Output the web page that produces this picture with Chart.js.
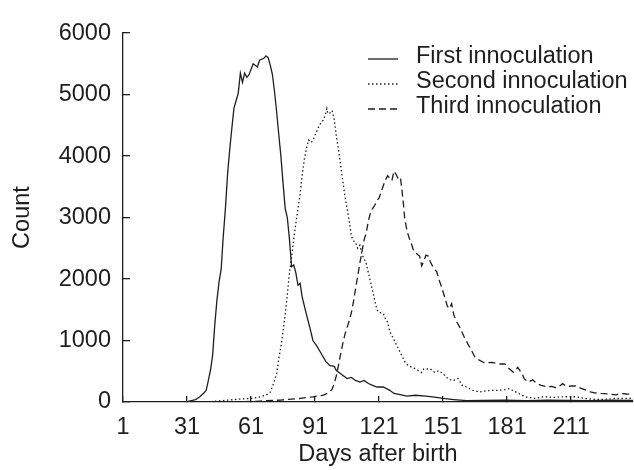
<!DOCTYPE html>
<html>
<head>
<meta charset="utf-8">
<script src="https://cdn.jsdelivr.net/npm/chart.js@4.4.1/dist/chart.umd.min.js"></script>
<style>
  html, body { margin: 0; padding: 0; background: #ffffff; }
  #wrap { width: 634px; height: 470px; position: relative; }
</style>
</head>
<body>
<div id="wrap"><canvas id="c" width="634" height="470"></canvas></div>
<script>
// ---- Data ----
const seriesLabels = ["First innoculation", "Second innoculation", "Third innoculation"];

const firstDays = [1, 20, 31, 35, 37, 39, 40, 41, 42, 43, 44, 45, 46, 47, 48, 49, 50, 51, 52, 53, 54, 55, 56, 57, 58, 59, 60, 62, 64, 65, 67, 68, 69, 70, 71, 72, 73, 74, 75, 76, 77, 78, 79, 80, 81, 82, 83, 84, 85, 87, 89, 90, 92, 94, 96, 98, 100, 101, 103, 106, 108, 110, 112, 114, 116, 118, 120, 123, 126, 128, 131, 134, 138, 143, 147, 151, 156, 162, 170, 180, 190, 200, 210, 220, 230, 240];
const firstCounts = [0, 0, 5, 40, 85, 150, 190, 350, 520, 760, 1250, 1650, 1950, 2160, 2700, 3150, 3700, 4100, 4450, 4780, 4900, 5020, 5350, 5200, 5350, 5280, 5320, 5500, 5450, 5560, 5590, 5630, 5600, 5480, 5330, 5050, 4720, 4350, 4000, 3560, 3150, 3000, 2650, 2200, 2230, 2100, 1900, 1930, 1700, 1420, 1150, 1000, 900, 780, 660, 590, 580, 510, 460, 380, 400, 350, 324, 350, 300, 270, 244, 244, 190, 139, 120, 96, 110, 96, 80, 59, 40, 21, 25, 30, 20, 30, 25, 20, 30, 25];

const secondDays = [1, 40, 45, 50, 55, 62, 66, 68, 70, 71, 72, 73, 74, 75, 76, 77, 78, 79, 80, 81, 82, 83, 84, 85, 86, 87, 88, 89, 90, 91, 92, 93, 94, 95, 96, 96.5, 97, 98, 99, 100, 101, 102, 103, 104, 105, 106, 107, 108, 109, 110, 111, 112, 113, 114, 115, 116, 117, 118, 119, 120, 121, 123, 124, 125, 126, 127, 129, 131, 133, 134, 136, 138, 141, 142, 145, 147, 149, 151, 153, 155, 157, 158, 160, 162, 165, 168, 171, 174, 177, 180, 182, 185, 188, 190, 194, 198, 203, 208, 213, 217, 222, 227, 232, 236, 240];
const secondCounts = [0, 0, 15, 30, 45, 60, 90, 112, 160, 250, 350, 460, 700, 900, 1150, 1420, 1750, 2100, 2350, 2650, 2900, 3150, 3380, 3700, 3950, 4130, 4260, 4220, 4250, 4340, 4420, 4500, 4550, 4590, 4700, 4770, 4690, 4700, 4740, 4600, 4320, 4100, 3850, 3600, 3350, 3150, 2950, 2700, 2620, 2600, 2500, 2550, 2400, 2330, 2250, 2100, 1950, 1800, 1650, 1500, 1460, 1440, 1350, 1300, 1150, 1080, 940, 800, 660, 610, 570, 540, 480, 540, 540, 484, 510, 460, 390, 350, 360, 380, 270, 244, 190, 164, 180, 190, 190, 200, 218, 164, 110, 80, 59, 85, 75, 85, 85, 59, 43, 43, 59, 59, 59];

const thirdDays = [1, 55, 65, 75, 84, 90, 95, 98, 99, 100, 101, 102, 103, 104, 105, 106, 107, 108, 109, 110, 111, 112, 113, 114, 115, 116, 117, 118, 119, 120, 121, 122, 123, 124, 125, 126, 127, 128, 129, 130, 131, 131.6, 132.4, 133, 134, 135, 136, 137, 138, 139, 140, 141, 142, 143, 144, 145, 146, 147, 148, 149, 150, 151, 152, 153, 154, 155, 156, 157, 159, 161, 163, 164, 166, 168, 170, 172, 174, 176, 178, 180, 181, 184, 186, 188, 189, 191, 193, 195, 197, 200, 202, 204, 206, 207, 209, 211, 213, 216, 220, 222, 225, 229, 232, 234, 237, 240];
const thirdCounts = [0, 0, 15, 32, 59, 85, 112, 164, 210, 300, 430, 600, 780, 950, 1100, 1210, 1320, 1450, 1630, 1850, 2050, 2260, 2450, 2640, 2750, 2950, 3080, 3150, 3200, 3270, 3320, 3420, 3520, 3610, 3680, 3640, 3600, 3755, 3700, 3630, 3650, 3490, 3224, 2990, 2800, 2680, 2590, 2480, 2440, 2400, 2374, 2214, 2300, 2390, 2374, 2280, 2214, 2160, 2120, 2000, 1900, 1790, 1680, 1560, 1520, 1600, 1420, 1330, 1203, 1050, 920, 860, 723, 680, 643, 640, 643, 630, 618, 620, 570, 484, 563, 458, 380, 324, 360, 300, 271, 244, 255, 230, 270, 298, 250, 260, 260, 218, 164, 150, 139, 128, 115, 139, 130, 128];

const xTickValues = [1, 31, 61, 91, 121, 151, 181, 211];
const yTickValues = [0, 1000, 2000, 3000, 4000, 5000, 6000];
const xTitle = "Days after birth";
const yTitle = "Count";

// ---- Build chart ----
const INK = '#1e1e1e';
const FONT = 'Liberation Sans, Arial, Helvetica, sans-serif';
const FSIZE = 23.5;
const toPts = (xs, ys) => xs.map((x, i) => ({ x: x, y: ys[i] }));

const dashStyles = [[], [1.5, 2.5], [7, 4]];

const legendPlugin = {
  id: 'insideLegend',
  afterDraw(chart) {
    const ctx = chart.ctx;
    ctx.save();
    ctx.font = FSIZE + 'px ' + FONT;
    ctx.fillStyle = INK;
    ctx.textBaseline = 'middle';
    ctx.textAlign = 'left';
    const rows = [57, 82, 107];
    chart.data.datasets.forEach((ds, i) => {
      const y = rows[i];
      ctx.strokeStyle = ds.borderColor;
      ctx.lineWidth = ds.borderWidth;
      ctx.setLineDash(ds.borderDash || []);
      ctx.beginPath();
      ctx.moveTo(368, y + 2);
      ctx.lineTo(398, y + 2);
      ctx.stroke();
      ctx.setLineDash([]);
      ctx.fillText(ds.label, 416, y);
    });
    ctx.restore();
  }
};

new Chart(document.getElementById('c'), {
  type: 'line',
  data: {
    datasets: [
      { label: seriesLabels[0], data: toPts(firstDays, firstCounts) },
      { label: seriesLabels[1], data: toPts(secondDays, secondCounts) },
      { label: seriesLabels[2], data: toPts(thirdDays, thirdCounts) }
    ].map((d, i) => Object.assign(d, {
      borderColor: INK,
      borderWidth: 1.3,
      borderDash: dashStyles[i],
      pointRadius: 0,
      tension: 0,
      fill: false
    }))
  },
  options: {
    responsive: false,
    animation: false,
    events: [],
    layout: { padding: { left: 0, right: 1, top: 26, bottom: 0 } },
    plugins: { legend: { display: false }, tooltip: { enabled: false } },
    scales: {
      x: {
        type: 'linear',
        min: 1,
        max: 240,
        afterBuildTicks: (s) => { s.ticks = xTickValues.map(v => ({ value: v })); },
        afterFit: (s) => { s.height = 68; },
        border: { display: true, color: INK, width: 1.3 },
        grid: { drawOnChartArea: false, drawTicks: true, tickLength: -6, color: INK, lineWidth: 1.3 },
        ticks: { color: INK, font: { family: FONT, size: FSIZE }, padding: 17, maxRotation: 0, autoSkip: false,
                 callback: (v) => String(v) },
        title: { display: true, text: xTitle, color: INK, font: { family: FONT, size: FSIZE }, padding: { top: 0, bottom: 1 } }
      },
      y: {
        min: 0,
        max: 6000,
        afterBuildTicks: (s) => { s.ticks = yTickValues.map(v => ({ value: v })); },
        afterFit: (s) => { s.width = 123; },
        border: { display: true, color: INK, width: 1.3 },
        grid: { drawOnChartArea: false, drawTicks: true, tickLength: -7, color: INK, lineWidth: 1.3 },
        ticks: { color: INK, font: { family: FONT, size: FSIZE }, padding: 19,
                 callback: (v) => String(v) },
        title: { display: true, text: yTitle, color: INK, font: { family: FONT, size: FSIZE }, padding: { top: 8, bottom: 0 } }
      }
    }
  },
  plugins: [legendPlugin]
});
</script>
</body>
</html>
